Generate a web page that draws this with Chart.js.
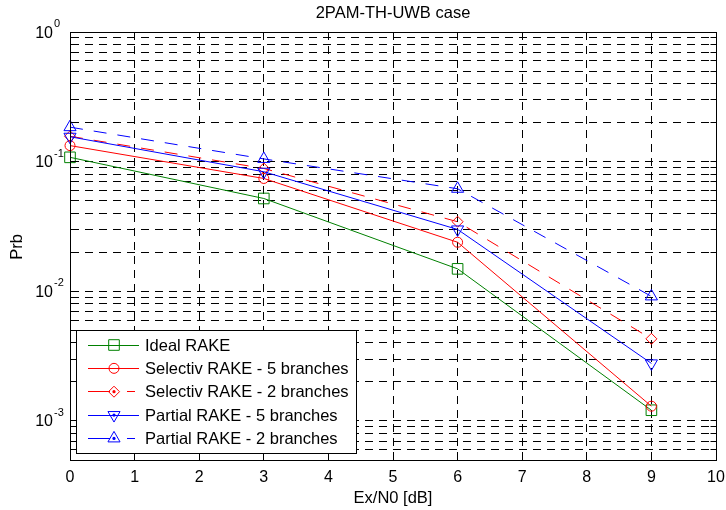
<!DOCTYPE html>
<html>
<head>
<meta charset="utf-8">
<title>2PAM-TH-UWB case</title>
<script src="https://cdn.jsdelivr.net/npm/chart.js@4.4.1/dist/chart.umd.min.js"></script>
<style>
  html, body { margin: 0; padding: 0; background: #fff; }
  #wrap { width: 726px; height: 510px; }
</style>
</head>
<body>
<div id="wrap"><canvas id="prbChart" width="726" height="510"></canvas></div>
<script>
// Prb vs Ex/N0 for the RAKE receiver variants (2PAM-TH-UWB)
const snrDb = [0, 3, 6, 9]
const idealRake = [0.108, 0.052, 0.0149, 0.00121]
const selectiv5 = [0.133, 0.0742, 0.0239, 0.0013]
const selectiv2 = [0.157, 0.0886, 0.0344, 0.0043]
const partial5 = [0.1556, 0.0836, 0.030, 0.00278]
const partial2 = [0.1845, 0.105, 0.0618, 0.00914]

const seriesNames = [
  "Ideal RAKE",
  "Selectiv RAKE - 5 branches",
  "Selectiv RAKE - 2 branches",
  "Partial RAKE - 5 branches",
  "Partial RAKE - 2 branches",
]

const xMin = 0
const xMax = 10
const yMin = 5e-4
const yMax = 1
const yDecades = [-3, -2, -1, 0] // labelled powers of ten

const FONT = '"Liberation Sans", Arial, Helvetica, sans-serif'
const GREEN = "#008000"
const RED = "#ff0000"
const BLUE = "#0000ff"
const DASH = [13, 11]

function toPoints(values) {
  return snrDb.map((x, i) => ({ x: x, y: values[i] }))
}

// marker look shared by plot and legend
const markers = [
  { style: "rect", radius: 7.5, rotation: 0, color: GREEN, dash: [], dot: false },
  { style: "circle", radius: 5, rotation: 0, color: RED, dash: [], dot: false },
  { style: "rectRot", radius: 5.5, rotation: 0, color: RED, dash: DASH, dot: true },
  { style: "triangle", radius: 7, rotation: 180, color: BLUE, dash: [], dot: true },
  { style: "triangle", radius: 7, rotation: 0, color: BLUE, dash: DASH, dot: true },
]
const seriesValues = [idealRake, selectiv5, selectiv2, partial5, partial2]

const datasets = seriesValues.map((values, i) => {
  const m = markers[i]
  return {
    label: seriesNames[i],
    data: toPoints(values),
    borderColor: m.color,
    borderWidth: 1,
    borderDash: m.dash,
    fill: false,
    tension: 0,
    pointStyle: m.style,
    pointRadius: m.radius,
    pointRotation: m.rotation,
    pointBorderColor: m.color,
    pointBackgroundColor: "rgba(0,0,0,0)",
    pointBorderWidth: 1,
    clip: false,
    order: seriesValues.length - i,
  }
})

function crisp(p) {
  return Math.round(p - 0.5) + 0.5
}

function drawMarker(ctx, m, cx, cy) {
  ctx.save()
  ctx.strokeStyle = m.color
  ctx.lineWidth = 1
  ctx.setLineDash([])
  ctx.beginPath()
  if (m.style === "rect") {
    const h = m.radius * Math.SQRT1_2
    ctx.rect(cx - h, cy - h, 2 * h, 2 * h)
  } else if (m.style === "circle") {
    ctx.arc(cx, cy, m.radius, 0, Math.PI * 2)
  } else if (m.style === "rectRot") {
    ctx.moveTo(cx, cy - m.radius)
    ctx.lineTo(cx + m.radius, cy)
    ctx.lineTo(cx, cy + m.radius)
    ctx.lineTo(cx - m.radius, cy)
    ctx.closePath()
  } else {
    const s = m.rotation ? -1 : 1
    const r = m.radius
    ctx.moveTo(cx, cy - s * r)
    ctx.lineTo(cx + r * 0.866, cy + s * r / 2)
    ctx.lineTo(cx - r * 0.866, cy + s * r / 2)
    ctx.closePath()
  }
  ctx.stroke()
  if (m.dot) {
    ctx.fillStyle = m.color
    ctx.beginPath()
    ctx.arc(cx, cy, 1.6, 0, Math.PI * 2)
    ctx.fill()
  }
  ctx.restore()
}

// axes box, inward ticks, tick labels, titles and legend
const figureDecor = {
  id: "figureDecor",
  afterDraw(chart) {
    const { ctx, chartArea: a, scales } = chart
    const xs = scales.x
    const ys = scales.y
    const left = crisp(a.left)
    const right = crisp(a.right)
    const top = crisp(a.top)
    const bottom = crisp(a.bottom)

    ctx.save()
    ctx.setLineDash([])
    ctx.strokeStyle = "#000"
    ctx.lineWidth = 1

    // tick marks
    ctx.beginPath()
    ys.ticks.forEach((t) => {
      const py = crisp(ys.getPixelForValue(t.value))
      ctx.moveTo(left, py)
      ctx.lineTo(left + 6, py)
      ctx.moveTo(right, py)
      ctx.lineTo(right - 6, py)
    })
    xs.ticks.forEach((t) => {
      const px = crisp(xs.getPixelForValue(t.value))
      ctx.moveTo(px, bottom)
      ctx.lineTo(px, bottom - 6)
      ctx.moveTo(px, top)
      ctx.lineTo(px, top + 6)
    })
    ctx.stroke()
    ctx.strokeRect(left, top, right - left, bottom - top)

    ctx.fillStyle = "#000"

    // x tick labels
    ctx.font = "16px " + FONT
    ctx.textAlign = "center"
    ctx.textBaseline = "alphabetic"
    xs.ticks.forEach((t) => {
      ctx.fillText(String(t.value), xs.getPixelForValue(t.value), 482)
    })

    // y tick labels 10^k
    yDecades.forEach((d) => {
      const py = ys.getPixelForValue(Math.pow(10, d))
      ctx.font = "16px " + FONT
      ctx.textAlign = "right"
      ctx.textBaseline = "alphabetic"
      ctx.fillText("10", 53, py + 5.5)
      ctx.font = "11px " + FONT
      ctx.textAlign = "left"
      ctx.fillText(d === 0 ? "0" : "-" + Math.abs(d), 54, py - 5)
    })

    // title and axis names
    const midX = (a.left + a.right) / 2
    ctx.font = "16.5px " + FONT
    ctx.textAlign = "center"
    ctx.textBaseline = "middle"
    ctx.fillText("2PAM-TH-UWB case", midX, 13)
    ctx.fillText("Ex/N0 [dB]", midX, 498)
    ctx.save()
    ctx.translate(17, (a.top + a.bottom) / 2 + 1)
    ctx.rotate(-Math.PI / 2)
    ctx.fillText("Prb", 0, 0)
    ctx.restore()

    // legend
    const lx = 76.5
    const ly = 330.5
    const lw = 280
    const lh = 123
    ctx.fillStyle = "#fff"
    ctx.fillRect(lx, ly, lw, lh)
    ctx.strokeStyle = "#000"
    ctx.strokeRect(lx, ly, lw, lh)
    seriesNames.forEach((name, i) => {
      const m = markers[i]
      const cy = 345 + i * 23.35
      const ry = crisp(cy)
      ctx.strokeStyle = m.color
      ctx.lineWidth = 1
      ctx.setLineDash([])
      ctx.beginPath()
      if (m.dash.length) {
        ctx.moveTo(88, ry)
        ctx.lineTo(110, ry)
        ctx.moveTo(127, ry)
        ctx.lineTo(135, ry)
      } else {
        ctx.moveTo(88, ry)
        ctx.lineTo(139, ry)
      }
      ctx.stroke()
      drawMarker(ctx, m, 114, cy)
      ctx.fillStyle = "#000"
      ctx.font = "16.5px " + FONT
      ctx.textAlign = "left"
      ctx.textBaseline = "middle"
      ctx.fillText(name, 145, cy + 1)
    })
    ctx.restore()
  },
}

new Chart(document.getElementById("prbChart"), {
  type: "line",
  data: { datasets: datasets },
  options: {
    responsive: false,
    animation: false,
    layout: { padding: { left: 0, top: 32, right: 10, bottom: 0 } },
    plugins: {
      legend: { display: false },
      tooltip: { enabled: false },
    },
    scales: {
      x: {
        type: "linear",
        min: xMin,
        max: xMax,
        ticks: { stepSize: 1, display: false },
        grid: { color: "#000", lineWidth: 1, drawTicks: false },
        border: { display: true, color: "#000", width: 1, dash: [8, 6] },
        afterFit(scale) {
          scale.height = 50
        },
      },
      y: {
        type: "logarithmic",
        min: yMin,
        max: yMax,
        ticks: { display: false },
        grid: { color: "#000", lineWidth: 1, drawTicks: false },
        border: { display: true, color: "#000", width: 1, dash: [8, 6] },
        afterBuildTicks(scale) {
          const ticks = []
          const e0 = Math.floor(Math.log10(yMin))
          const e1 = Math.ceil(Math.log10(yMax))
          for (let e = e0; e <= e1; e++) {
            for (let m = 1; m <= 9; m++) {
              const v = m * Math.pow(10, e)
              if (v >= yMin * 0.999 && v <= yMax * 1.001) ticks.push({ value: v })
            }
          }
          scale.ticks = ticks
        },
        afterFit(scale) {
          scale.width = 70
        },
      },
    },
  },
  plugins: [figureDecor],
})
</script>
</body>
</html>
